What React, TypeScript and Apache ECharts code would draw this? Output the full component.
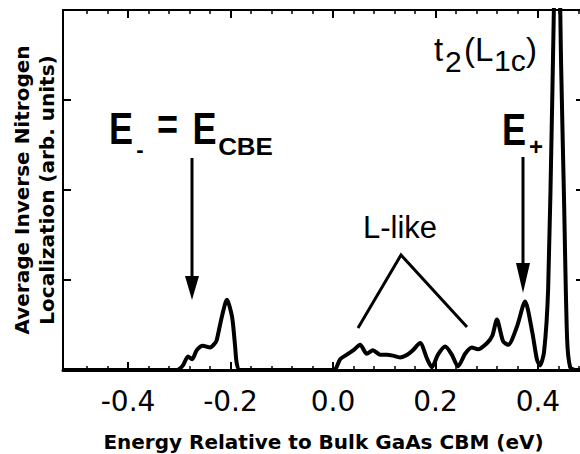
import React, { useEffect, useRef } from "react";
import * as echarts from "echarts";

// Energy (eV) relative to bulk GaAs CBM
const energy = [
  -0.527, -0.305, -0.293, -0.283, -0.275, -0.266, -0.254, -0.240, -0.230, -0.227, -0.217, -0.207, -0.197, -0.191, -0.188, -0.182,
  0.000, 0.006, 0.014, 0.027, 0.040, 0.053, 0.066, 0.078, 0.092, 0.105, 0.117, 0.131, 0.145, 0.156, 0.170, 0.184, 0.193,
  0.205, 0.219, 0.232, 0.244, 0.258, 0.271, 0.283, 0.301, 0.311, 0.320, 0.332, 0.342, 0.359, 0.375, 0.389, 0.398, 0.404,
  0.412, 0.420, 0.428, 0.4336, 0.4375, 0.4453, 0.451, 0.457, 0.463, 0.473, 0.490,
];
// Average inverse nitrogen localization (arb. units)
const localization = [
  0, 0, 0.05, 0.15, 0.12, 0.22, 0.27, 0.25, 0.30, 0.33, 0.59, 0.78, 0.59, 0.26, 0.08, 0,
  0, 0.02, 0.12, 0.17, 0.22, 0.28, 0.18, 0.22, 0.17, 0.17, 0.16, 0.14, 0.17, 0.22, 0.30, 0.12, 0.03,
  0.17, 0.26, 0.17, 0.04, 0.18, 0.25, 0.23, 0.30, 0.38, 0.56, 0.32, 0.28, 0.48, 0.76, 0.42, 0.12, 0.05,
  0.2, 0.9, 3.0, 4.8, 6.0, 3.4, 1.9, 0.35, 0.03, 0, 0,
];

const xTickValues = [-0.4, -0.2, 0.0, 0.2, 0.4];
const xTickLabels = ["-0.4", "-0.2", "0.0", "0.2", "0.4"];
const xMinorTicks = [-0.48, -0.44, -0.36, -0.32, -0.28, -0.24, -0.16, -0.12, -0.08, -0.04, 0.04, 0.08, 0.12, 0.16, 0.24, 0.28, 0.32, 0.36, 0.44, 0.48];
const xRange = [-0.527, 0.49];
const yRange = [0, 4];

export default function App() {
  const ref = useRef<HTMLDivElement>(null);
  useEffect(() => {
    document.body.style.overflow = "hidden";
    const chart = echarts.init(ref.current!, undefined, { renderer: "svg" });
    const fmt = (v: number) => {
      const i = xTickValues.findIndex((t) => Math.abs(t - v) < 1e-6);
      return i >= 0 ? xTickLabels[i] : "";
    };
    const black = "#000";
    const baseX = {
      type: "value" as const,
      min: xRange[0],
      max: xRange[1],
      splitLine: { show: false },
    };
    const bold = { fontFamily: "Liberation Sans", fontWeight: "bold" as const, fill: black };
    chart.setOption({
      animation: false,
      backgroundColor: "#fff",
      grid: { left: 63, top: 10, right: 16, bottom: 84, containLabel: false, outerBoundsMode: "none" },
      xAxis: [
        {
          ...baseX,
          position: "bottom",
          axisLine: { show: true, onZero: false, lineStyle: { color: black, width: 3 } },
          axisTick: { show: true, inside: true, length: 8, lineStyle: { color: black, width: 2 }, customValues: xTickValues },
          axisLabel: {
            show: true, customValues: xTickValues, formatter: fmt, margin: 17,
            color: black, fontFamily: "DejaVu Sans", fontSize: 28,
          },
          name: "Energy Relative to Bulk GaAs CBM (eV)",
          nameLocation: "middle",
          nameGap: 62,
          nameTextStyle: { color: black, fontFamily: "DejaVu Sans", fontWeight: "bold", fontSize: 20 },
        },
        {
          ...baseX,
          position: "bottom",
          axisLine: { show: false, onZero: false },
          axisTick: { show: true, inside: true, length: 4, lineStyle: { color: black, width: 1.5 }, customValues: xMinorTicks },
          axisLabel: { show: false },
        },
        {
          ...baseX,
          position: "top",
          axisLine: { show: true, onZero: false, lineStyle: { color: black, width: 2 } },
          axisTick: { show: true, inside: true, length: 8, lineStyle: { color: black, width: 2 }, customValues: xTickValues },
          axisLabel: { show: false },
        },
        {
          ...baseX,
          position: "top",
          axisLine: { show: false, onZero: false },
          axisTick: { show: true, inside: true, length: 4, lineStyle: { color: black, width: 1.5 }, customValues: xMinorTicks },
          axisLabel: { show: false },
        },
      ],
      yAxis: [
        {
          type: "value",
          min: yRange[0],
          max: yRange[1],
          interval: 1,
          position: "left",
          axisLine: { show: true, onZero: false, lineStyle: { color: black, width: 2 } },
          axisTick: { show: true, inside: true, length: 8, lineStyle: { color: black, width: 2 } },
          axisLabel: { show: false },
          splitLine: { show: false },
          name: "Average Inverse Nitrogen\nLocalization (arb. units)",
          nameLocation: "middle",
          nameRotate: 90,
          nameGap: 4,
          nameTextStyle: { color: black, fontFamily: "DejaVu Sans", fontWeight: "bold", fontSize: 20, lineHeight: 25 },
        },
        {
          type: "value",
          min: yRange[0],
          max: yRange[1],
          interval: 1,
          position: "right",
          axisLine: { show: true, onZero: false, lineStyle: { color: black, width: 2 } },
          axisTick: { show: true, inside: true, length: 8, lineStyle: { color: black, width: 2 } },
          axisLabel: { show: false },
          splitLine: { show: false },
        },
      ],
      series: [
        {
          type: "line",
          xAxisIndex: 0,
          yAxisIndex: 0,
          data: energy.map((e, i) => [e, localization[i]]),
          showSymbol: false,
          smooth: 0.25,
          clip: true,
          lineStyle: { color: black, width: 4 },
          z: 3,
        },
      ],
      graphic: [
        { type: "text", x: 121, y: 129, scaleX: 0.82, style: { ...bold, text: "E", fontSize: 44, align: "center", verticalAlign: "middle" } },
        { type: "text", x: 140, y: 149, style: { ...bold, text: "-", fontSize: 22, align: "center", verticalAlign: "middle" } },
        { type: "text", x: 167.5, y: 125.5, scaleX: 0.82, style: { ...bold, text: "=", fontSize: 44, align: "center", verticalAlign: "middle" } },
        { type: "text", x: 204.5, y: 129, scaleX: 0.82, style: { ...bold, text: "E", fontSize: 44, align: "center", verticalAlign: "middle" } },
        { type: "text", x: 245.5, y: 146.5, scaleX: 1.08, style: { ...bold, text: "CBE", fontSize: 24, align: "center", verticalAlign: "middle" } },
        { type: "line", shape: { x1: 192, y1: 158, x2: 192, y2: 282 }, style: { stroke: black, lineWidth: 3 } },
        { type: "polygon", shape: { points: [[185, 276], [199, 276], [192, 300]] }, style: { fill: black } },

        { type: "text", x: 514, y: 130, scaleX: 0.82, style: { ...bold, text: "E", fontSize: 44, align: "center", verticalAlign: "middle" } },
        { type: "text", x: 536, y: 146, style: { ...bold, text: "+", fontSize: 24, align: "center", verticalAlign: "middle" } },
        { type: "line", shape: { x1: 523, y1: 157, x2: 523, y2: 268 }, style: { stroke: black, lineWidth: 3 } },
        { type: "polygon", shape: { points: [[516, 263], [530, 263], [523, 293]] }, style: { fill: black } },

        { type: "text", x: 400, y: 227, style: { text: "L-like", fontFamily: "Liberation Sans", fontSize: 31, fill: black, align: "center", verticalAlign: "middle" } },
        { type: "polyline", shape: { points: [[358, 328], [401, 255], [467, 327]] }, style: { stroke: black, lineWidth: 3, fill: "none" } },

        { type: "text", x: 434, y: 49, style: { text: "t", fontFamily: "Liberation Sans", fontSize: 33, fill: black, align: "left", verticalAlign: "middle" } },
        { type: "text", x: 445, y: 61, style: { text: "2", fontFamily: "Liberation Sans", fontSize: 30, fill: black, align: "left", verticalAlign: "middle" } },
        { type: "text", x: 464, y: 49, style: { text: "(L", fontFamily: "Liberation Sans", fontSize: 33, fill: black, align: "left", verticalAlign: "middle" } },
        { type: "text", x: 494, y: 60, style: { text: "1c", fontFamily: "Liberation Sans", fontSize: 30, fill: black, align: "left", verticalAlign: "middle" } },
        { type: "text", x: 526, y: 49, style: { text: ")", fontFamily: "Liberation Sans", fontSize: 33, fill: black, align: "left", verticalAlign: "middle" } },
      ],
    });
    return () => chart.dispose();
  }, []);
  return (
    <div
      ref={ref}
      style={{ position: "fixed", left: 0, top: 0, width: 600, height: 454, background: "#fff" }}
    />
  );
}
